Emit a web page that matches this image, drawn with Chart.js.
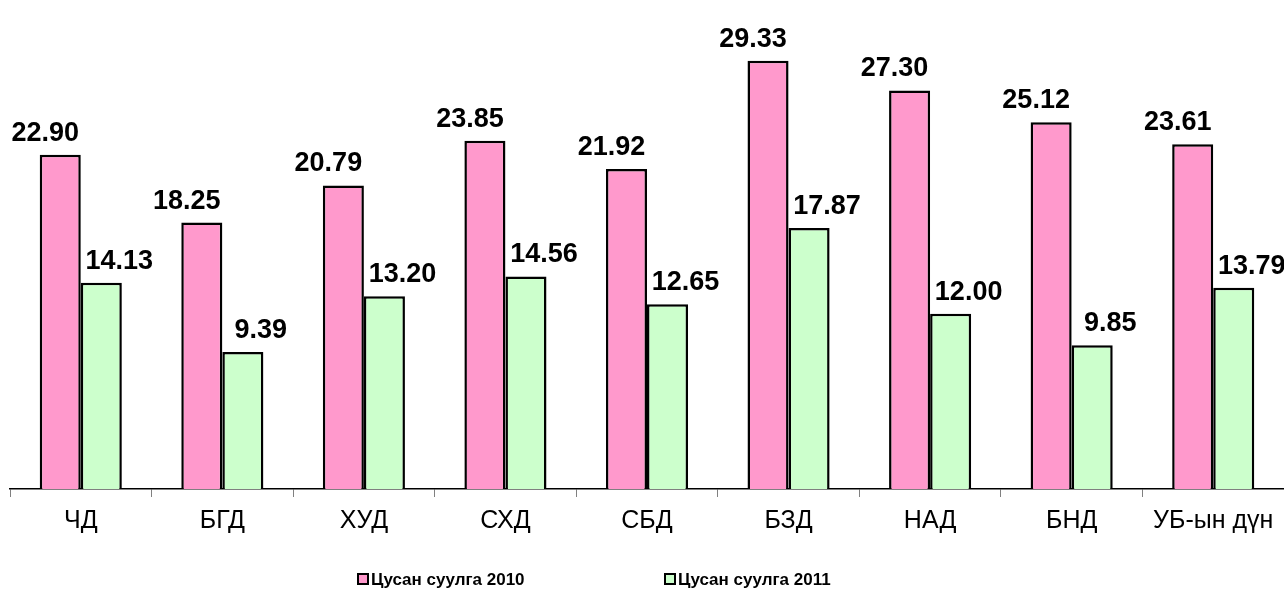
<!DOCTYPE html>
<html>
<head>
<meta charset="utf-8">
<script src="https://cdn.jsdelivr.net/npm/chart.js@4.4.0/dist/chart.umd.min.js"></script>
<style>
  html, body { margin: 0; padding: 0; background: #fff; }
  #wrap { width: 1284px; height: 595px; }
</style>
</head>
<body>
<div id="wrap"><canvas id="chart" width="1284" height="595"></canvas></div>
<script>
// chart data
const districts = ['ЧД', 'БГД', 'ХУД', 'СХД', 'СБД', 'БЗД', 'НАД', 'БНД', 'УБ-ын дүн'];
const values2010 = [22.90, 18.25, 20.79, 23.85, 21.92, 29.33, 27.30, 25.12, 23.61];
const values2011 = [14.13, 9.39, 13.20, 14.56, 12.65, 17.87, 12.00, 9.85, 13.79];
const seriesNames = ['Цусан суулга 2010', 'Цусан суулга 2011'];

const FONT = '"Liberation Sans", Arial, sans-serif';

// value labels above each bar (pink shifted left, green shifted right like the original)
const valueLabels = {
    id: 'valueLabels',
    afterDatasetsDraw(chart) {
        const ctx = chart.ctx;
        const shift = [-15, 18];
        ctx.save();
        ctx.font = 'bold 27px ' + FONT;
        ctx.fillStyle = '#000';
        ctx.textAlign = 'center';
        ctx.textBaseline = 'bottom';
        chart.data.datasets.forEach((ds, i) => {
            chart.getDatasetMeta(i).data.forEach((bar, j) => {
                ctx.fillText(ds.data[j].toFixed(2), bar.x + shift[i], bar.y - 8);
            });
        });
        ctx.restore();
    }
};

// legend drawn by hand so the two items can sit far apart
const wideLegend = {
    id: 'wideLegend',
    afterDraw(chart) {
        const ctx = chart.ctx;
        const starts = [358, 665];
        const y = 579;
        ctx.save();
        ctx.font = 'bold 17px ' + FONT;
        ctx.textBaseline = 'middle';
        chart.data.datasets.forEach((ds, i) => {
            const x = starts[i];
            ctx.fillStyle = ds.backgroundColor;
            ctx.fillRect(x, y - 5, 10, 10);
            ctx.strokeStyle = '#000';
            ctx.lineWidth = 2;
            ctx.strokeRect(x, y - 5, 10, 10);
            ctx.fillStyle = '#000';
            ctx.fillText(ds.label, x + 13, y + 1);
        });
        ctx.restore();
    }
};

new Chart(document.getElementById('chart'), {
    type: 'bar',
    plugins: [valueLabels, wideLegend],
    data: {
        labels: districts,
        datasets: [
            {
                label: seriesNames[0],
                data: values2010,
                backgroundColor: '#FF99CC',
                borderColor: '#000',
                borderWidth: 2.5,
                borderSkipped: 'bottom'
            },
            {
                label: seriesNames[1],
                data: values2011,
                backgroundColor: '#CCFFCC',
                borderColor: '#000',
                borderWidth: 2.5,
                borderSkipped: 'bottom'
            }
        ]
    },
    options: {
        responsive: false,
        animation: false,
        layout: { padding: { left: 10, right: 0, top: 51, bottom: 0 } },
        datasets: {
            bar: { categoryPercentage: 0.58, barPercentage: 1.0 }
        },
        scales: {
            x: {
                offset: true,
                grid: {
                    display: true,
                    drawOnChartArea: false,
                    drawTicks: true,
                    tickLength: 8,
                    color: '#808080',
                    offset: true
                },
                border: { color: '#000', width: 1.5 },
                ticks: {
                    color: '#000',
                    padding: 9,
                    maxRotation: 0,
                    autoSkip: false,
                    font: { family: FONT, size: 25 }
                },
                afterFit: (scale) => { scale.height = 106; }
            },
            y: {
                display: false,
                min: 0,
                max: 30
            }
        },
        plugins: {
            legend: { display: false },
            tooltip: { enabled: false }
        }
    }
});
</script>
</body>
</html>
